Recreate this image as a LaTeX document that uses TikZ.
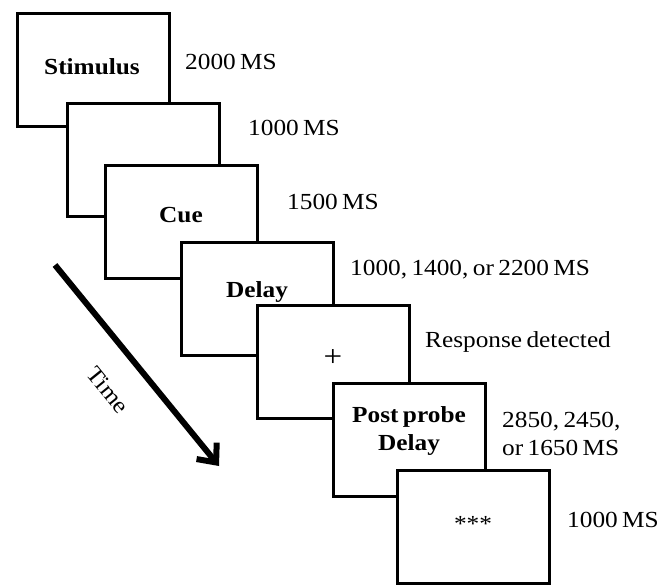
\documentclass[tikz,border=0pt]{standalone}
\usepackage{fontspec}
\setmainfont{Liberation Serif}[FakeStretch=1.1, WordSpace=0.7]
\usetikzlibrary{arrows.meta}
\begin{document}
\begin{tikzpicture}[x=1pt,y=-1pt,
  scr/.style={draw=black, fill=white, line width=3pt, minimum width=152pt, minimum height=113pt, anchor=north west, inner sep=0pt, outer sep=0pt},
  lbl/.style={anchor=west, inner sep=0pt, font=\fontsize{23}{28}\selectfont, align=left},
  btxt/.style={inner sep=0pt, font=\fontsize{23}{28}\selectfont\bfseries, align=center},
  timearrow/.style={line width=6pt, -{Straight Barb[length=15pt, width=26pt]}}]
\useasboundingbox (0,0) rectangle (660,584);
% screens, drawn in order so that later ones cover earlier ones
\node[scr] (b1) at (17,13) {};
\node[btxt] (t1) at (92,67) {Stimulus};
\node[scr] (b2) at (67,103) {};
\node[scr] (b3) at (105,165) {};
\node[btxt] (t3) at (181,215) {Cue};
\node[scr] (b4) at (181,242) {};
\node[btxt] (t4) at (257,292) {Delay};
\node[scr] (b5) at (257,305) {};
\node[font=\fontsize{30}{30}\selectfont, inner sep=0pt] (t5) at (333,358) {+};
\node[scr] (b6) at (333,383) {};
\node[btxt] (t6) at (409,431) {Post probe\\Delay};
\node[scr] (b7) at (397,470) {};
\node[font=\fontsize{23}{28}\selectfont, inner sep=0pt] (t7) at (473,524) {***};
% durations
\node[lbl] (d1) at (185,62) {2000 MS};
\node[lbl] (d2) at (248,128) {1000 MS};
\node[lbl] (d3) at (287,202) {1500 MS};
\node[lbl] (d4) at (350,270) {1000, 1400, or 2200 MS};
\node[lbl] (d5) at (425,342) {Response detected};
\node[lbl] (d6) at (502,434) {2850, 2450,\\or 1650 MS};
\node[lbl] (d7) at (567,520) {1000 MS};
% time arrow
\coordinate (ta) at (55,265);
\coordinate (tb) at (219,466);
\draw[timearrow] (ta) -- (tb);
\node[font=\fontsize{23}{28}\selectfont, inner sep=0pt, rotate=-51] (time) at (108,390) {Time};
\end{tikzpicture}
\end{document}
